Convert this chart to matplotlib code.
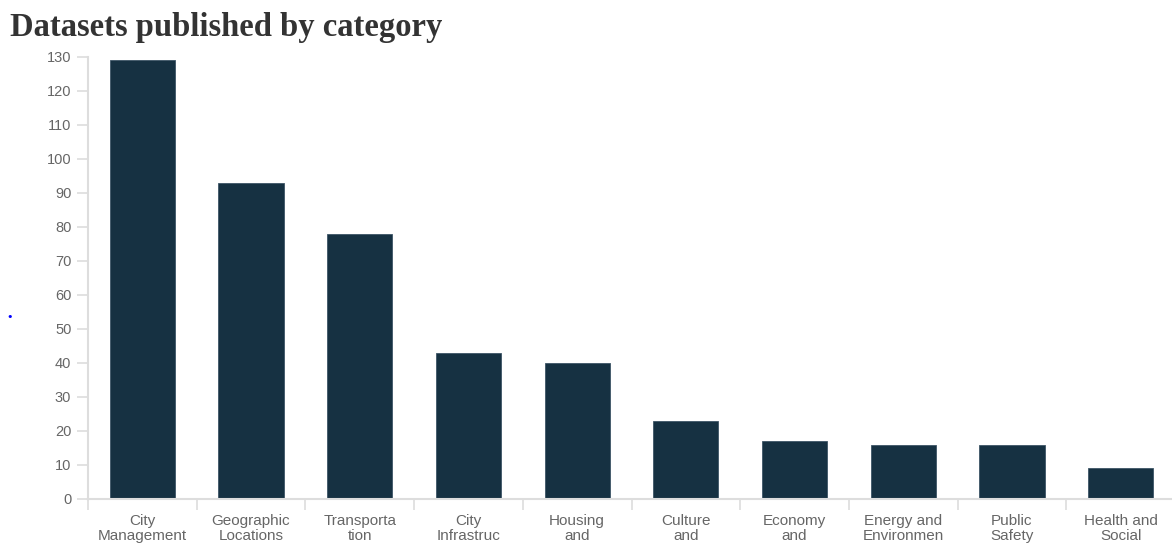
import matplotlib.pyplot as plt
import numpy as np

categories = ["City\nManagement", "Geographic\nLocations", "Transporta\ntion",
              "City\nInfrastruc", "Housing\nand", "Culture\nand", "Economy\nand",
              "Energy and\nEnvironmen", "Public\nSafety", "Health and\nSocial"]
counts = [129, 93, 78, 43, 40, 23, 17, 16, 16, 9]
yticks = list(range(0, 131, 10))


def main():
    fig = plt.figure(figsize=(11.72, 5.45), dpi=100)
    ax = fig.add_axes([88 / 1172, 1 - 499 / 545, 1087 / 1172, (499 - 57) / 545])

    x = np.arange(len(categories))
    ax.bar(x, counts, width=0.6, color="#163142", edgecolor="#3d5566", linewidth=0.6)

    ax.set_xlim(-0.5, len(categories) - 0.5)
    ax.set_ylim(0, 130)
    ax.set_yticks(yticks)
    ax.set_yticklabels([str(v) for v in yticks], fontsize=10.5, color="#666666",
                       family="Liberation Sans")

    # category labels between boundary ticks
    ax.set_xticks(x)
    ax.set_xticklabels(categories, fontsize=11, color="#666666",
                       family="Liberation Sans", linespacing=1.1)
    ax.tick_params(axis="x", length=0, pad=11)
    ax.set_xticks(np.arange(-0.5, len(categories), 1.0), minor=True)
    ax.tick_params(axis="x", which="minor", length=8, color="#dddddd", width=1.2)
    ax.tick_params(axis="y", length=8, color="#dddddd", width=1.2, pad=4)

    for s in ["top", "right"]:
        ax.spines[s].set_visible(False)
    for s in ["left", "bottom"]:
        ax.spines[s].set_color("#dddddd")
        ax.spines[s].set_linewidth(1.5)

    fig.text(10 / 1172, 1 - 36 / 545, "Datasets published by category",
             fontsize=23.5, fontweight="bold", family="Liberation Serif", color="#333333")
    fig.text(10 / 1172, 1 - 317 / 545, "\u2022", fontsize=8, color="#0000ff",
             ha="center", va="center")

    plt.savefig("out.png")


if __name__ == "__main__":
    main()
